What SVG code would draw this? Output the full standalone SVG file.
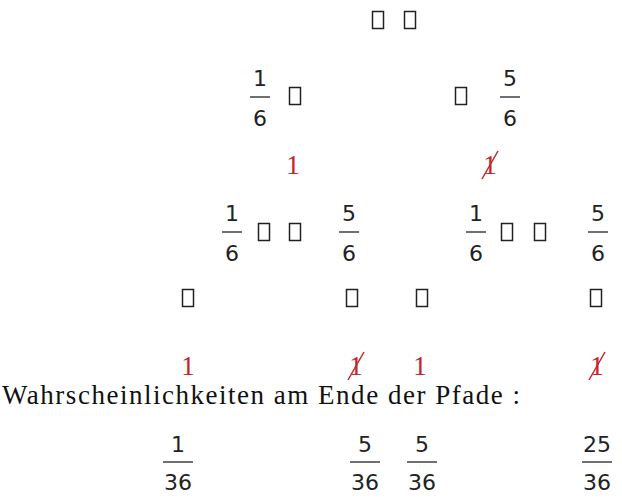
<svg xmlns="http://www.w3.org/2000/svg" width="622" height="501" viewBox="0 0 622 501">
<style>
.n{font-family:"DejaVu Sans",Verdana,sans-serif;font-size:22px;fill:#222;text-anchor:middle}
.bar{stroke:#222;stroke-width:1.3}
.box{fill:none;stroke:#222;stroke-width:1.5}
.r{font-family:"Liberation Serif","Times New Roman",serif;font-size:27px;fill:#c8242a;text-anchor:middle}
.slash{stroke:#c8242a;stroke-width:1.5}
.h{font-family:"Liberation Serif","Times New Roman",serif;font-size:27px;fill:#111}
</style>
<defs>
<rect id="tofu" class="box" x="-5.5" y="-8.5" width="11" height="17"/>
<g id="f16"><text class="n" x="0" y="-11">1</text><line class="bar" x1="-10" y1="0" x2="10" y2="0"/><text class="n" x="0" y="29">6</text></g>
<g id="f56"><text class="n" x="0" y="-11">5</text><line class="bar" x1="-10" y1="0" x2="10" y2="0"/><text class="n" x="0" y="29">6</text></g>
<g id="x1"><text class="r" x="0" y="0">1</text><line class="slash" x1="-8" y1="5" x2="8" y2="-23"/></g>
</defs>
<g id="root"><use href="#tofu" x="378" y="20"/><use href="#tofu" x="410" y="20"/></g>
<g id="connectors">
<g id="e-root-a"><use href="#f16" x="260" y="97"/><use href="#tofu" x="295" y="96"/></g>
<g id="e-root-b"><use href="#tofu" x="461" y="96"/><use href="#f56" x="510" y="97"/></g>
<g id="e-a-aa"><use href="#f16" x="232" y="232"/><use href="#tofu" x="264" y="232"/></g>
<g id="e-a-ab"><use href="#tofu" x="295" y="232"/><use href="#f56" x="349" y="232"/></g>
<g id="e-b-ba"><use href="#f16" x="476" y="232"/><use href="#tofu" x="507" y="232"/></g>
<g id="e-b-bb"><use href="#tofu" x="540" y="232"/><use href="#f56" x="598" y="232"/></g>
<g id="e-leaf"><use href="#tofu" x="188" y="298"/><use href="#tofu" x="352" y="298"/><use href="#tofu" x="422" y="298"/><use href="#tofu" x="596" y="298"/></g>
</g>
<g id="node-a"><text class="r" x="293" y="174">1</text></g>
<g id="node-b"><use href="#x1" x="490" y="174"/></g>
<g id="node-aa"><text class="r" x="188" y="375">1</text></g>
<g id="node-ab"><use href="#x1" x="356" y="375"/></g>
<g id="node-ba"><text class="r" x="420" y="375">1</text></g>
<g id="node-bb"><use href="#x1" x="597" y="375"/></g>
<g id="caption"><text class="h" x="2" y="404" textLength="518" lengthAdjust="spacing">Wahrscheinlichkeiten am Ende der Pfade :</text></g>
<g id="results">
<g><text class="n" x="178" y="452">1</text><line class="bar" x1="163" y1="462" x2="193" y2="462"/><text class="n" x="178" y="490">36</text></g>
<g><text class="n" x="365" y="452">5</text><line class="bar" x1="350" y1="462" x2="380" y2="462"/><text class="n" x="365" y="490">36</text></g>
<g><text class="n" x="422" y="452">5</text><line class="bar" x1="407" y1="462" x2="437" y2="462"/><text class="n" x="422" y="490">36</text></g>
<g><text class="n" x="597" y="452">25</text><line class="bar" x1="582" y1="462" x2="612" y2="462"/><text class="n" x="597" y="490">36</text></g>
</g>
</svg>
